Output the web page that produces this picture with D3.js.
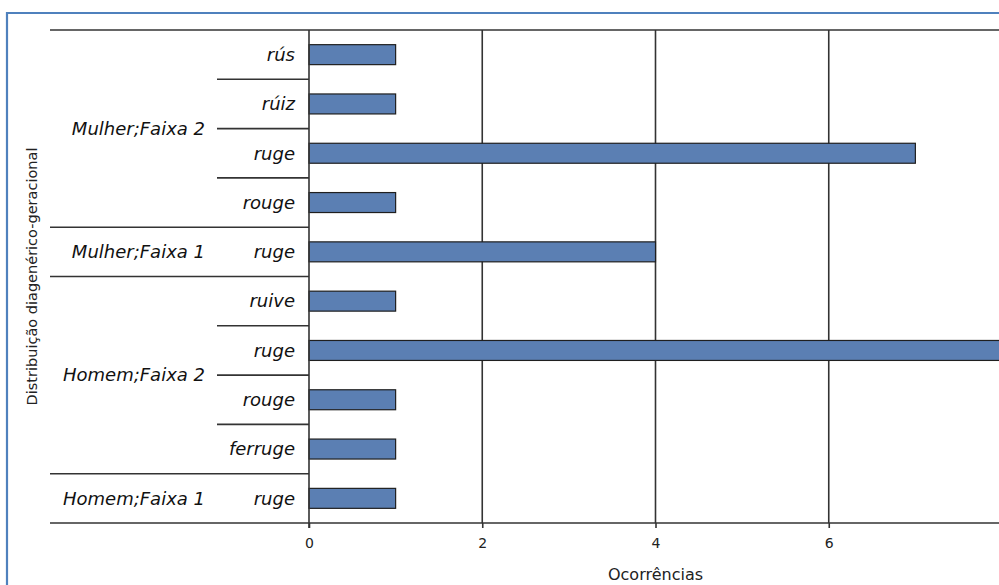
<!DOCTYPE html>
<html><head><meta charset="utf-8">
<script src="https://cdn.jsdelivr.net/npm/d3@7"></script>
<style>body{margin:0;background:#fff}svg{display:block}</style>
</head><body>
<script>
const groups = ["Mulher;Faixa 2","Mulher;Faixa 1","Homem;Faixa 2","Homem;Faixa 1"];
const groupOf = ["Mulher;Faixa 2","Mulher;Faixa 2","Mulher;Faixa 2","Mulher;Faixa 2","Mulher;Faixa 1","Homem;Faixa 2","Homem;Faixa 2","Homem;Faixa 2","Homem;Faixa 2","Homem;Faixa 1"];
const categories = ["rús","rúiz","ruge","rouge","ruge","ruive","ruge","rouge","ferruge","ruge"];
const values = [1,1,7,1,4,1,8,1,1,1];
const xTicks = [0,2,4,6];
const yTitle = "Distribuição diagenérico-geracional";
const xTitle = "Ocorrências";

const W=999,H=585;
const svg=d3.select("body").append("svg").attr("width",W).attr("height",H);
// outer frame
svg.append("path").attr("d","M7,590 L7,13 L1010,13").attr("fill","none").attr("stroke","#4f81bd").attr("stroke-width",2.2);

const x0=309, x1=1002, yTop=30, yBot=523;
const x=d3.scaleLinear().domain([0,8]).range([x0,x1]);
const idx=d3.range(categories.length);
const y=d3.scaleBand().domain(idx).range([yTop,yBot]).paddingInner(0.595).paddingOuter(0.2975);
const yb=d3.scaleBand().domain(idx).range([yTop,yBot]);
const lineC="#333";

// gridlines
const g=svg.append("g");
g.selectAll("line.grid").data(xTicks.filter(t=>t>0)).join("line")
 .attr("x1",d=>x(d)).attr("x2",d=>x(d)).attr("y1",yTop).attr("y2",yBot)
 .attr("stroke",lineC).attr("stroke-width",1.6);
// top line
g.append("line").attr("x1",50).attr("x2",1010).attr("y1",yTop).attr("y2",yTop).attr("stroke",lineC).attr("stroke-width",1.6);

// bars
svg.append("g").selectAll("rect").data(idx).join("rect")
 .attr("x",x(0)).attr("y",i=>y(i)).attr("width",i=>x(values[i])-x(0)).attr("height",y.bandwidth())
 .attr("fill","#5b7fb3").attr("stroke","#1f1f1f").attr("stroke-width",1.2);

// x axis
const xa=svg.append("g").attr("transform",`translate(0,${yBot})`)
 .call(d3.axisBottom(x).tickValues(xTicks).tickSize(5).tickPadding(10));
xa.attr("font-size",null).attr("font-family",null);
xa.select(".domain").remove();
xa.selectAll(".tick line").attr("stroke",lineC).attr("stroke-width",1.6);
xa.selectAll(".tick text").style("font-family","'DejaVu Sans', Verdana, sans-serif").style("font-size","14px").attr("fill","#222");
svg.append("line").attr("x1",50).attr("x2",1010).attr("y1",yBot).attr("y2",yBot).attr("stroke",lineC).attr("stroke-width",1.6);
// y axis line
svg.append("line").attr("x1",x0).attr("x2",x0).attr("y1",yTop).attr("y2",yBot+5).attr("stroke",lineC).attr("stroke-width",1.6);

// category separators & labels
const lab=svg.append("g").attr("font-family","'DejaVu Sans', Verdana, sans-serif").attr("font-style","italic").attr("font-size",18).attr("fill","#111");
idx.forEach(i=>{
  const yy=yb(i)+yb.bandwidth();
  if(i<categories.length-1){
    const groupBoundary = groupOf[i]!==groupOf[i+1];
    svg.append("line").attr("x1",groupBoundary?50:217).attr("x2",x0).attr("y1",yy).attr("y2",yy).attr("stroke",lineC).attr("stroke-width",1.6);
  }
  lab.append("text").attr("x",295).attr("y",yb(i)+yb.bandwidth()/2).attr("dy","0.35em").attr("text-anchor","end").text(categories[i]);
});
groups.forEach(gn=>{
  const ids=idx.filter(i=>groupOf[i]===gn);
  const top=yb(ids[0]), bot=yb(ids[ids.length-1])+yb.bandwidth();
  lab.append("text").attr("x",205).attr("y",(top+bot)/2).attr("dy","0.35em").attr("text-anchor","end").text(gn);
});

// titles
svg.append("text").attr("transform",`translate(37,${(yTop+yBot)/2}) rotate(-90)`).attr("text-anchor","middle")
 .attr("font-family","'DejaVu Sans', Verdana, sans-serif").attr("font-size",14.5).attr("fill","#222").text(yTitle);
svg.append("text").attr("x",(x0+x1)/2).attr("y",580).attr("text-anchor","middle")
 .attr("font-family","'DejaVu Sans', Verdana, sans-serif").attr("font-size",16).attr("fill","#222").text(xTitle);
</script>
</body></html>
